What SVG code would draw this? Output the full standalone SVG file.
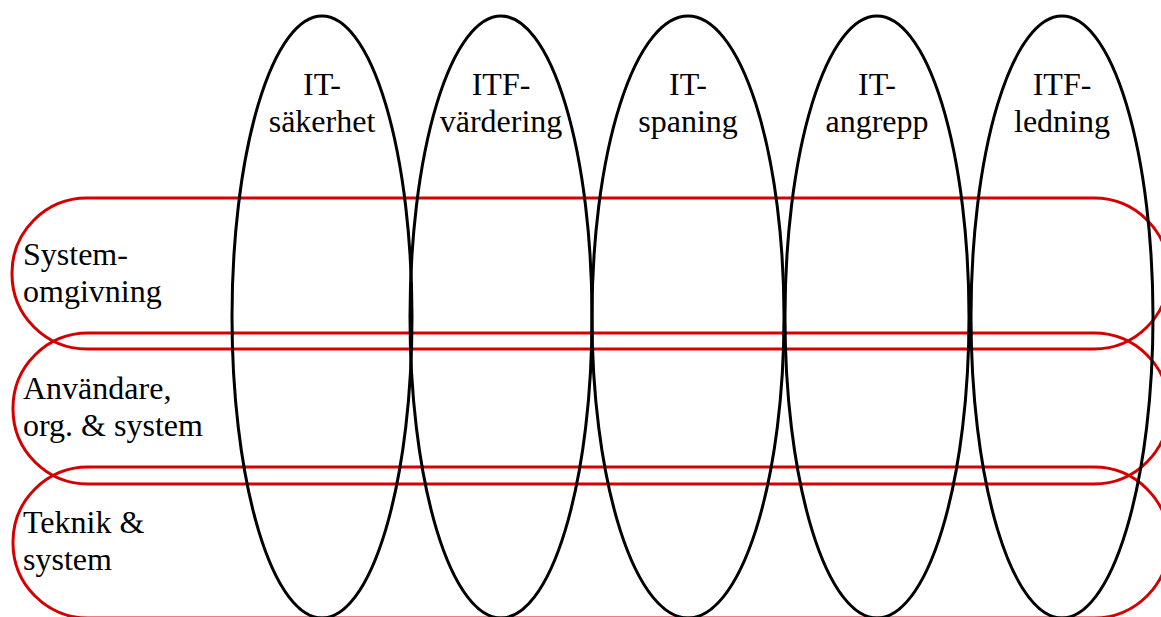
<svg xmlns="http://www.w3.org/2000/svg" width="1161" height="617" viewBox="0 0 1161 617">
  <style>
    .band { fill: none; stroke: #d40000; stroke-width: 3; }
    .area { fill: none; stroke: #000; stroke-width: 3; }
    .lbl { font-family: "Liberation Serif", "Times New Roman", serif; font-size: 32px; fill: #000; }
    .mid { text-anchor: middle; }
  </style>
  <rect width="1161" height="617" fill="#fff"/>

  <!-- horizontal layers -->
  <g id="layer-systemomgivning">
    <rect class="band" x="12" y="198" width="1157" height="151" rx="75" ry="75"/>
    <text class="lbl" x="23" y="265">System-</text>
    <text class="lbl" x="23" y="302">omgivning</text>
  </g>
  <g id="layer-anvandare">
    <rect class="band" x="13" y="333" width="1156" height="151" rx="75" ry="75"/>
    <text class="lbl" x="23" y="399">Användare,</text>
    <text class="lbl" x="23" y="436">org. &amp; system</text>
  </g>
  <g id="layer-teknik">
    <rect class="band" x="13" y="467" width="1156" height="151" rx="75" ry="75"/>
    <text class="lbl" x="23" y="533">Teknik &amp;</text>
    <text class="lbl" x="23" y="570">system</text>
  </g>

  <!-- vertical areas -->
  <g id="area-it-sakerhet">
    <ellipse class="area" cx="322" cy="317" rx="90" ry="301"/>
    <text class="lbl mid" x="322" y="95">IT-</text>
    <text class="lbl mid" x="322" y="132">säkerhet</text>
  </g>
  <g id="area-itf-vardering">
    <ellipse class="area" cx="501" cy="317" rx="91" ry="301"/>
    <text class="lbl mid" x="501" y="95">ITF-</text>
    <text class="lbl mid" x="501" y="132">värdering</text>
  </g>
  <g id="area-it-spaning">
    <ellipse class="area" cx="688" cy="317" rx="96" ry="301"/>
    <text class="lbl mid" x="688" y="95">IT-</text>
    <text class="lbl mid" x="688" y="132">spaning</text>
  </g>
  <g id="area-it-angrepp">
    <ellipse class="area" cx="877" cy="317" rx="92" ry="301"/>
    <text class="lbl mid" x="877" y="95">IT-</text>
    <text class="lbl mid" x="877" y="132">angrepp</text>
  </g>
  <g id="area-itf-ledning">
    <ellipse class="area" cx="1062" cy="317" rx="91" ry="301"/>
    <text class="lbl mid" x="1062" y="95">ITF-</text>
    <text class="lbl mid" x="1062" y="132">ledning</text>
  </g>

  <g id="connectors"></g>
</svg>
